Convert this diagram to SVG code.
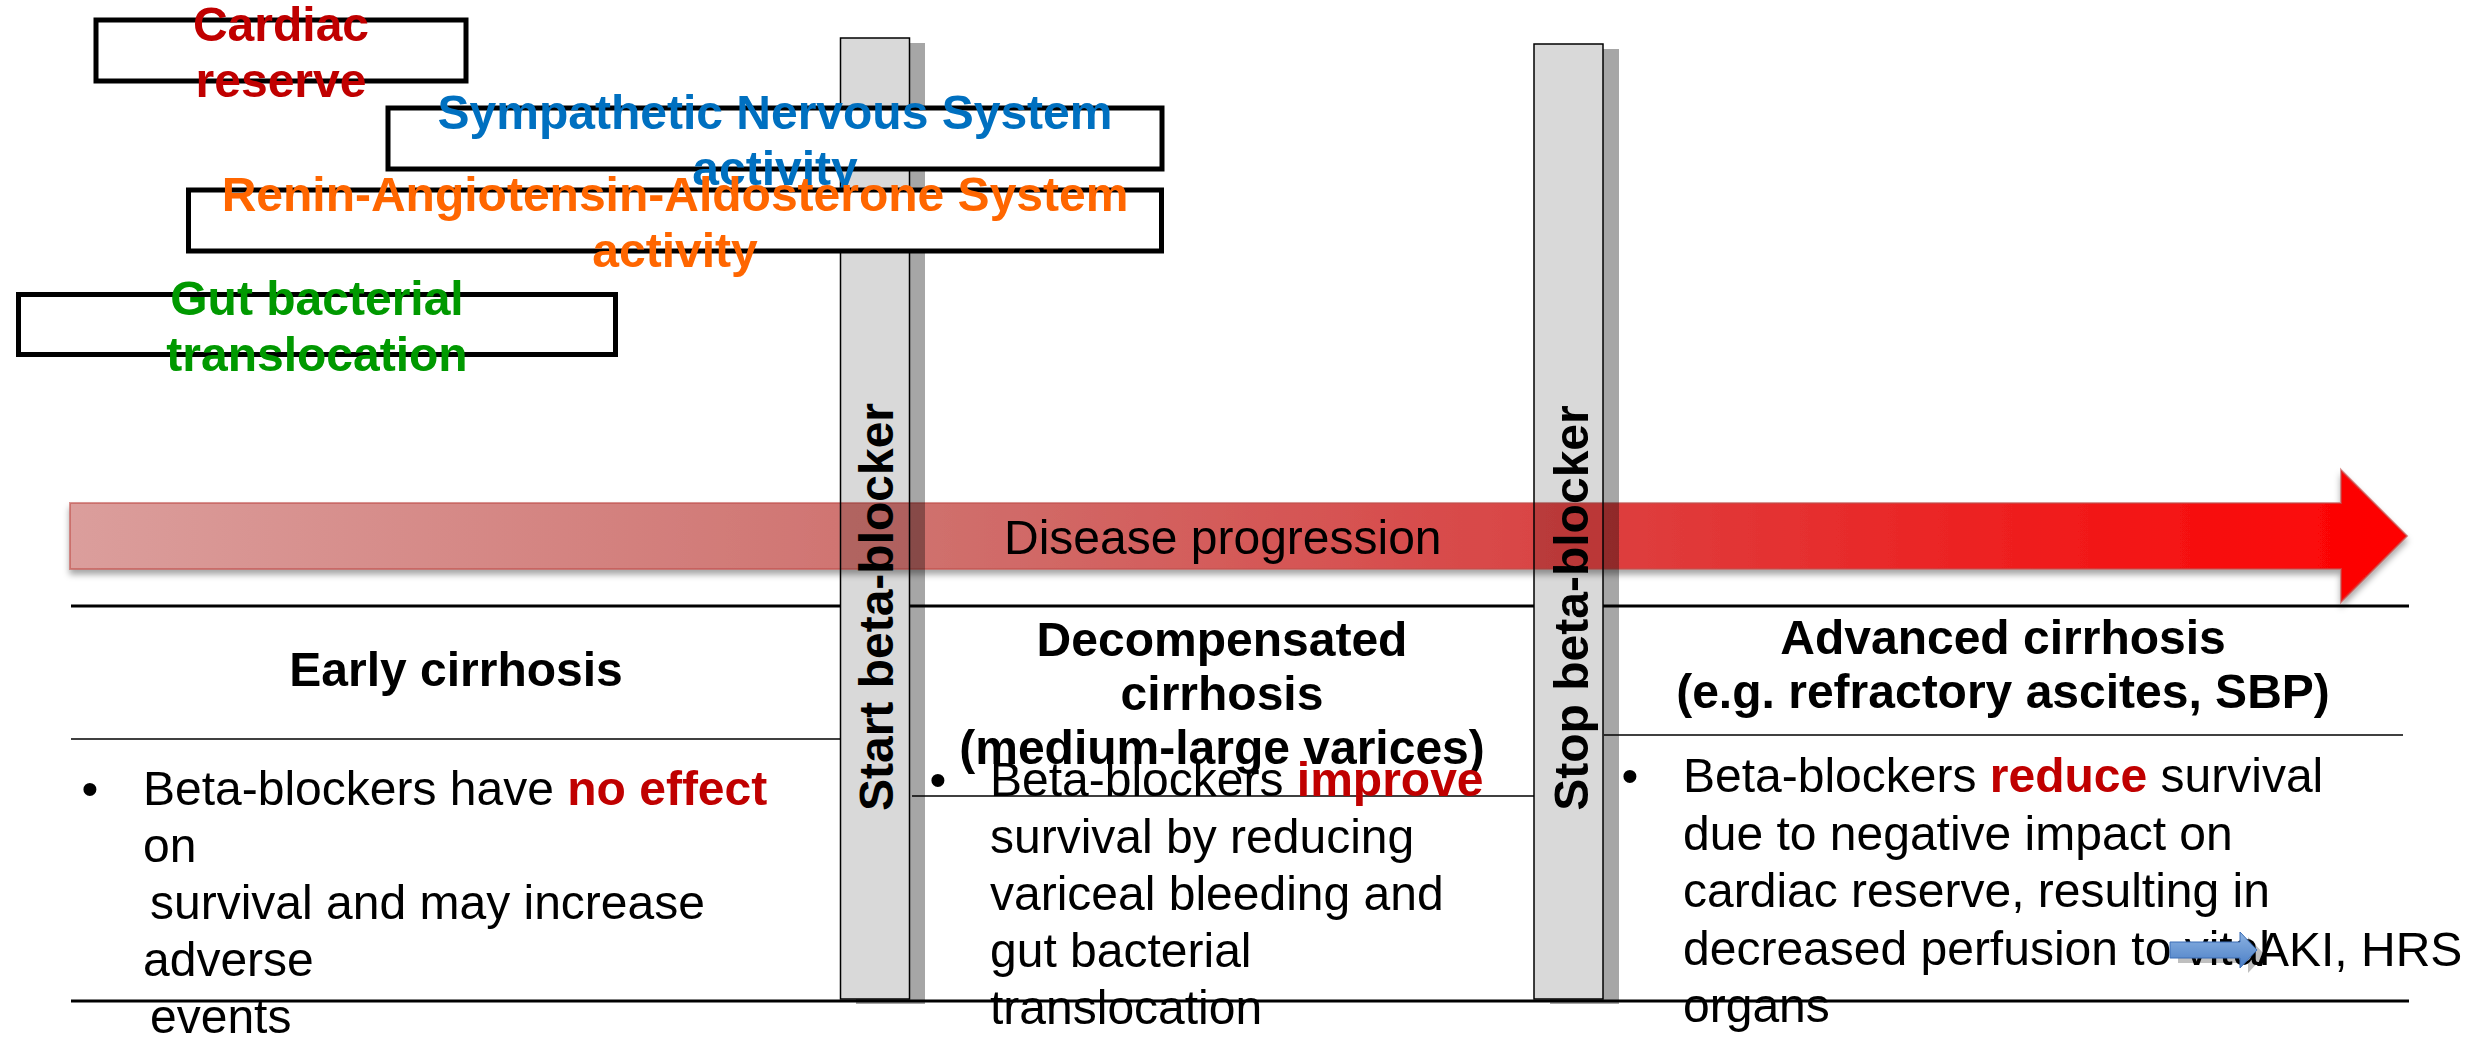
<svg xmlns="http://www.w3.org/2000/svg" width="2483" height="1044" viewBox="0 0 2483 1044">
<style>
text{font-family:"Liberation Sans",Arial,sans-serif;font-size:48px;fill:#000}
.bx{fill:#fff;stroke:#000;stroke-width:5}
.bt{font-weight:bold;text-anchor:middle}
.hd{font-weight:bold;text-anchor:middle}
.mid{text-anchor:middle}
.rb{font-weight:bold;fill:#C00000}
.bar{fill:#D9D9D9;stroke:#000;stroke-width:1.5}
.sh{fill:#A6A6A6}
.thick{stroke:#000;stroke-width:3}
.thin{stroke:#000;stroke-width:1.5}
.prog{mix-blend-mode:multiply}
</style>
<defs>
<linearGradient id="gProg" gradientUnits="userSpaceOnUse" x1="70" y1="0" x2="2407" y2="0">
<stop offset="0" stop-color="#DB9E9C"/>
<stop offset="0.36" stop-color="#CF716E"/>
<stop offset="0.62" stop-color="#D94646"/>
<stop offset="1" stop-color="#FF0000"/>
</linearGradient>
<linearGradient id="gBlue" x1="0" y1="0" x2="0" y2="1">
<stop offset="0" stop-color="#8DB3E2"/>
<stop offset="1" stop-color="#4A7EC6"/>
</linearGradient>
<filter id="fSh" x="-5%" y="-30%" width="110%" height="170%">
<feDropShadow dx="0" dy="5" stdDeviation="3" flood-color="#000" flood-opacity="0.35"/>
</filter>
</defs>

<!-- bar shadows -->
<g id="shadows">
<rect class="sh" x="856" y="43" width="69" height="961"/>
<rect class="sh" x="1550" y="49" width="69" height="955"/>
</g>

<!-- table rules -->
<g id="rules">
<line class="thick" x1="71" y1="606" x2="2409" y2="606"/>
<line class="thick" x1="71" y1="1001" x2="2409" y2="1001"/>
<line class="thin" x1="71" y1="739" x2="841" y2="739"/>
<line class="thin" x1="912" y1="796" x2="1534" y2="796"/>
<line class="thin" x1="1604" y1="735" x2="2403" y2="735"/>
</g>

<g id="bar-start">
<rect class="bar" x="840.5" y="38" width="69" height="961"/>
<text class="bt" transform="translate(893,607) rotate(-90)">Start beta-blocker</text>
</g>
<g id="bar-stop">
<rect class="bar" x="1534" y="44" width="69" height="955"/>
<text class="bt" transform="translate(1588,608) rotate(-90)">Stop beta-blocker</text>
</g>

<g id="arrow-progression">
<path class="prog" filter="url(#fSh)" d="M70,503 H2341 V470 L2407,536 L2341,602 V569 H70 Z" fill="url(#gProg)" stroke="#C0504D" stroke-opacity="0.6" stroke-width="2"/>
<text x="1004" y="554">Disease progression</text>
</g>

<g id="box-cardiac">
<rect class="bx" x="96" y="20" width="370" height="61"/>
<text class="bt" x="281" y="41" fill="#C00000" style="fill:#C00000">Cardiac</text>
<text class="bt" x="281" y="97" style="fill:#C00000">reserve</text>
</g>
<g id="box-sns">
<rect class="bx" x="388" y="108" width="774" height="61"/>
<text class="bt" x="775" y="129" style="fill:#0070C0">Sympathetic Nervous System</text>
<text class="bt" x="775" y="185" style="fill:#0070C0">activity</text>
</g>
<g id="box-raas">
<rect class="bx" x="188.5" y="190" width="973" height="61"/>
<text class="bt" x="675" y="211" style="fill:#FF6600">Renin-Angiotensin-Aldosterone System</text>
<text class="bt" x="675" y="267" style="fill:#FF6600">activity</text>
</g>
<g id="box-gut">
<rect class="bx" x="18.5" y="294.5" width="597" height="60"/>
<text class="bt" x="317" y="315" style="fill:#009900">Gut bacterial</text>
<text class="bt" x="317" y="371" style="fill:#009900">translocation</text>
</g>

<g id="col-early">
<text class="hd" x="456" y="686">Early cirrhosis</text>
<text class="mid" x="90" y="805">•</text>
<text x="143" y="805">Beta-blockers have <tspan class="rb">no effect</tspan></text>
<text x="143" y="862">on</text>
<text x="150" y="919">survival and may increase</text>
<text x="143" y="976">adverse</text>
<text x="150" y="1033">events</text>
</g>

<g id="col-decompensated">
<text class="hd" x="1222" y="656">Decompensated</text>
<text class="hd" x="1222" y="710">cirrhosis</text>
<text class="hd" x="1222" y="764">(medium-large varices)</text>
<text class="mid" x="938" y="796">•</text>
<text x="990" y="796">Beta-blockers <tspan class="rb">improve</tspan></text>
<text x="990" y="853">survival by reducing</text>
<text x="990" y="910">variceal bleeding and</text>
<text x="990" y="967">gut bacterial</text>
<text x="990" y="1024">translocation</text>
</g>

<g id="col-advanced">
<text class="hd" x="2003" y="654">Advanced cirrhosis</text>
<text class="hd" x="2003" y="708">(e.g. refractory ascites, SBP)</text>
<text class="mid" x="1630" y="792">•</text>
<text x="1683" y="792">Beta-blockers <tspan class="rb">reduce</tspan> survival</text>
<text x="1683" y="850">due to negative impact on</text>
<text x="1683" y="907">cardiac reserve, resulting in</text>
<text x="1683" y="965">decreased perfusion to vital</text>
<text x="1683" y="1022">organs</text>
</g>

<g id="connectors">
<path d="M2178,947 H2248 V937 L2265,955 L2248,973 V963 H2178 Z" fill="#000" opacity="0.25"/>
<path d="M2170,942 H2240 V932 L2257,950 L2240,968 V958 H2170 Z" fill="url(#gBlue)" stroke="#3A6DB5" stroke-width="1"/>
</g>
<g id="label-aki">
<text x="2257" y="966">AKI, HRS</text>
</g>
</svg>
